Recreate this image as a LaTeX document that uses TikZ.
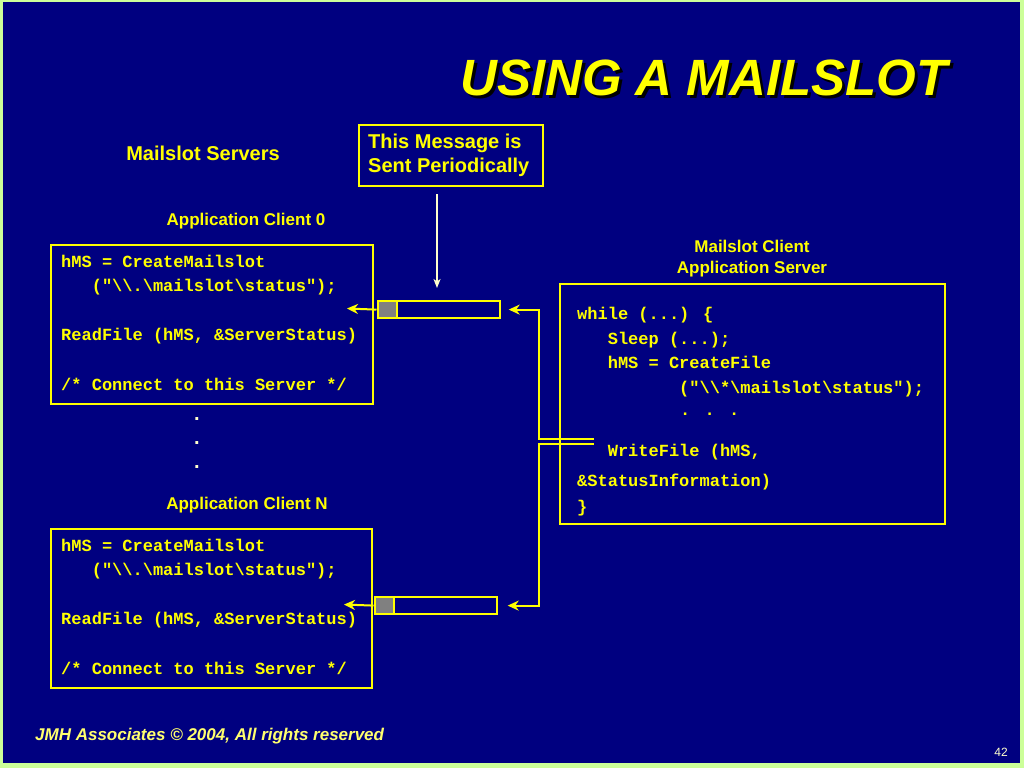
\documentclass[tikz,border=0pt]{standalone}
\usepackage{fontspec}
\setmainfont{Liberation Sans}
\newfontfamily\codefont{Liberation Mono}
\usetikzlibrary{arrows.meta}
\definecolor{navy}{RGB}{0,0,128}
\definecolor{edgegreen}{RGB}{204,255,153}
\definecolor{yel}{RGB}{255,255,0}
\definecolor{pale}{RGB}{255,255,204}
\definecolor{footyel}{RGB}{255,255,110}
\definecolor{slotgray}{RGB}{128,128,128}
\begin{document}
\begin{tikzpicture}[x=1pt,y=-1pt,
  box/.style={draw=yel,line width=2.4pt,inner sep=0pt,anchor=north west},
  slot/.style={draw=yel,line width=2.2pt,inner sep=0pt,anchor=north west,minimum height=17pt},
  code/.style={font=\codefont\bfseries\fontsize{17}{20}\selectfont,text=yel,anchor=base west,inner sep=0pt},
  lab/.style={font=\bfseries\fontsize{17}{20}\selectfont,text=yel,anchor=base,inner sep=0pt},
  dotlab/.style={font=\bfseries\fontsize{20}{24}\selectfont,text=pale,anchor=base,inner sep=0pt},
  arr/.style={draw=yel,line width=2pt,-{Stealth[length=11pt,width=10pt,inset=3.5pt]}},
  parr/.style={draw=pale,line width=1.4pt,-{Stealth[length=9pt,width=7pt,inset=2.5pt]}}]
% background
\fill[edgegreen] (0,0) rectangle (1024,768);
\fill[navy] (3,2) rectangle (1020,763);
\useasboundingbox (0,0) rectangle (1024,768);

% title with shadow (one node)
\node[font=\bfseries\itshape\fontsize{51}{60}\selectfont,text=yel,anchor=base,inner sep=0pt] (title) at (704,95)
  {\makebox[0pt][l]{\hspace{3pt}\raisebox{-3pt}{\textcolor{black}{USING A MAILSLOT}}}USING A MAILSLOT};

% headings
\node[font=\bfseries\fontsize{20}{24}\selectfont,text=yel,anchor=base,inner sep=0pt] (servers) at (203,160) {Mailslot Servers};
\node[lab] (app0) at (246,225) {Application Client 0};
\node[lab] (appN) at (247,509) {Application Client N};
\node[lab] (clientlab1) at (752,252) {Mailslot Client};
\node[lab] (clientlab2) at (752,273) {Application Server};

% message box
\node[draw=yel,line width=2.2pt,anchor=north west,minimum width=184pt,minimum height=61pt,inner sep=0pt] (msg) at (357.5,124) {};
\node[font=\bfseries\fontsize{20}{24}\selectfont,text=yel,anchor=base west,inner sep=0pt] (msgt1) at (368,148) {This Message is};
\node[font=\bfseries\fontsize{20}{24}\selectfont,text=yel,anchor=base west,inner sep=0pt] (msgt2) at (368,172) {Sent Periodically};

% client 0 box
\node[box,minimum width=322pt,minimum height=159pt] (c0) at (50,244) {};
\node[code] (c0l1) at (61,267) {hMS = CreateMailslot};
\node[code] (c0l2) at (91.6,291) {("\textbackslash\textbackslash.\textbackslash mailslot\textbackslash status");};
\node[code] (c0l3) at (61,340) {ReadFile (hMS, \&ServerStatus)};
\node[code] (c0l4) at (61,390) {/* Connect to this Server */};

% dots
\node[dotlab] (d1) at (197,420) {.};
\node[dotlab] (d2) at (197,444) {.};
\node[dotlab] (d3) at (197,468) {.};

% client N box
\node[box,minimum width=321pt,minimum height=159pt] (cN) at (50,528) {};
\node[code] (cNl1) at (61,551) {hMS = CreateMailslot};
\node[code] (cNl2) at (91.6,575) {("\textbackslash\textbackslash.\textbackslash mailslot\textbackslash status");};
\node[code] (cNl3) at (61,624) {ReadFile (hMS, \&ServerStatus)};
\node[code] (cNl4) at (61,674) {/* Connect to this Server */};

% server box
\node[box,minimum width=385pt,minimum height=240pt] (srv) at (559,283) {};
\node[code] (s1) at (577,319) {while (...) \{};
\node[code] (s2) at (607.6,344) {Sleep (...);};
\node[code] (s3) at (607.6,368) {hMS = CreateFile};
\node[code] (s4) at (679,393) {("\textbackslash\textbackslash*\textbackslash mailslot\textbackslash status");};
\node[code] (s5) at (680,415) {.\hspace{14.3pt}.\hspace{14.3pt}.};
\node[code] (s6) at (607.6,456) {WriteFile (hMS,};
\node[code] (s7) at (577,486) {\&StatusInformation)};
\node[code] (s8) at (577,512) {\}};

% mailslot 0
\node[slot,minimum width=122pt] (ms0) at (376.5,300) {};
\node[slot,fill=slotgray,minimum width=19pt] (ms0sq) at (376.5,300) {};
% mailslot N
\node[slot,minimum width=122pt] (msN) at (373.5,596) {};
\node[slot,fill=slotgray,minimum width=19pt] (msNsq) at (373.5,596) {};

% connectors
\coordinate (mx) at (437,0);
\draw[parr,shorten <=7pt,shorten >=12pt] (msg.south -| mx) -- (ms0.north -| mx);

\coordinate (c0tip) at (347,308.5);
\coordinate (cNtip) at (344,604.5);
\draw[arr] (ms0sq.west) -- (c0tip);
\draw[arr] (msNsq.west) -- (cNtip);

\coordinate (wf1) at (594,439);
\coordinate (wf2) at (594,444);
\coordinate (jx) at (539,0);
\draw[arr,shorten >=8pt] (wf1) -- (wf1 -| jx) |- (ms0.east);
\draw[arr,shorten >=10pt] (wf2) -- (wf2 -| jx) |- (msN.east);

% footer
\node[font=\bfseries\itshape\fontsize{17}{20}\selectfont,text=footyel,anchor=base west,inner sep=0pt] (foot) at (35,740) {JMH Associates © 2004, All rights reserved};
\node[font=\fontsize{12}{14}\selectfont,text=pale,anchor=base east,inner sep=0pt] (pnum) at (1008,756) {42};
\end{tikzpicture}
\end{document}
